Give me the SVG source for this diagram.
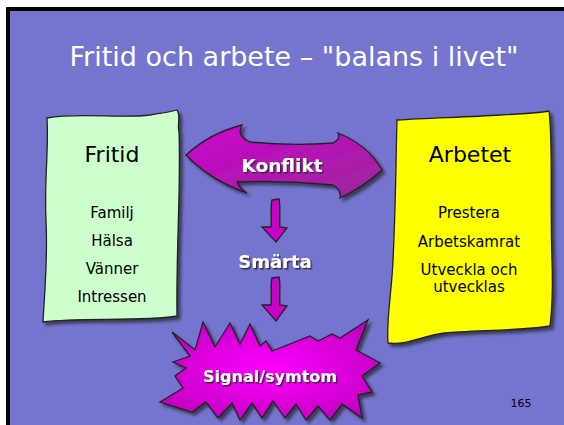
<svg xmlns="http://www.w3.org/2000/svg" width="564" height="425" viewBox="0 0 564 425">
<style>
.t{font-family:"DejaVu Sans","Liberation Sans",sans-serif;text-anchor:middle}
.title{fill:#fff;font-size:27px}
.head{fill:#000;font-size:22px}
.item{fill:#000;font-size:15px}
.wl{fill:#fff;font-weight:bold}
.outl{stroke:#222;stroke-width:1.3}
</style>
<defs>
<filter id="sh" x="-10%" y="-10%" width="130%" height="130%">
<feDropShadow dx="3" dy="3" stdDeviation="1.5" flood-color="#222" flood-opacity="0.7"/>
</filter>
<filter id="tsh" x="-10%" y="-20%" width="130%" height="150%">
<feDropShadow dx="1.5" dy="1.5" stdDeviation="0.6" flood-color="#222" flood-opacity="0.8"/>
</filter>
<linearGradient id="gK" x1="0" y1="0" x2="1" y2="1">
<stop offset="0" stop-color="#CC00CC"/>
<stop offset="1" stop-color="#9A2A9A"/>
</linearGradient>
<radialGradient id="gS" cx="0.5" cy="0.5" r="0.6">
<stop offset="0" stop-color="#FF00FF"/>
<stop offset="1" stop-color="#C000C0"/>
</radialGradient>
</defs>
<rect x="0" y="0" width="564" height="425" fill="#fff"/>
<rect x="6" y="7" width="558" height="418" fill="#000"/>
<rect x="10" y="11" width="554" height="414" fill="#7575CF"/>
<text class="t title" x="294" y="66">Fritid och arbete – "balans i livet"</text>

<g id="fritid">
<path class="outl" filter="url(#sh)" fill="#CCFFCC" d="M 47,118 C 80,112 120,119 150,115 C 162,113 170,112 177,110 C 181,116 177,124 179,132 C 181,190 176,250 177,316 C 140,322 80,317 43,322 C 44,300 48,260 46,220 C 44,180 49,150 47,118 Z"/>
<text class="t head" x="112" y="162">Fritid</text>
<text class="t item" x="112" y="218">Familj</text>
<text class="t item" x="112" y="246">Hälsa</text>
<text class="t item" x="112" y="274">Vänner</text>
<text class="t item" x="112" y="302">Intressen</text>
</g>

<g id="arbetet">
<path class="outl" filter="url(#sh)" fill="#FFFF00" d="M 397,120 C 430,118 470,117 500,115 C 520,114 540,113 549,111 C 553,140 550,200 552,260 C 553,290 552,310 550,326 C 520,331 470,330 445,333 C 420,336 410,345 388,343 C 386,320 392,290 393,260 C 396,200 396,150 397,120 Z"/>
<text class="t head" x="470" y="162">Arbetet</text>
<text class="t item" x="469" y="218">Prestera</text>
<text class="t item" x="469" y="247">Arbetskamrat</text>
<text class="t item" x="469" y="275">Utveckla och</text>
<text class="t item" x="469" y="292">utvecklas</text>
</g>

<g id="konflikt">
<path class="outl" filter="url(#sh)" fill="url(#gK)" d="M 186,155 Q 210,133 242,125 Q 236,136 250,142 Q 292,146 333,143 Q 341,139 338,133 Q 368,145 382,170 Q 365,186 340,198 Q 342,190 333,185 Q 285,180 237,182 Q 240,189 247,193 Q 210,180 186,155 Z"/>
<text class="t wl" filter="url(#tsh)" x="282" y="172" font-size="18.5">Konflikt</text>
</g>

<g id="smarta">
<text class="t wl" filter="url(#tsh)" x="275" y="268" font-size="18">Smärta</text>
</g>

<g id="signal">
<path class="outl" filter="url(#sh)" fill="url(#gS)" d="M 172,332 L 195,350 L 203,322 L 215,347 L 230,323 L 240,344 L 250,324 L 260,346 L 266,341 L 272,351 L 310,336 L 318,341 L 332,334 L 340,338 L 368,320 L 356,350 L 380,363 L 362,376 L 372,392 L 358,395 L 362,418 L 342,404 L 330,420 L 318,406 L 306,420 L 296,404 L 285,418 L 273,401 L 262,418 L 252,403 L 240,420 L 232,403 L 218,418 L 206,402 L 192,412 L 160,402 L 183,388 L 175,376 L 186,368 L 173,362 L 190,356 Z"/>
<text class="t wl" filter="url(#tsh)" x="270" y="382" font-size="16">Signal/symtom</text>
</g>

<g id="connectors">
<path class="outl" fill="#CC00CC" d="M 272,200 L 279,199 C 281,208 279,218 280,227 L 287,228 L 276,242 L 262,227 L 271,227 C 272,218 270,208 272,200 Z"/>
<path class="outl" fill="#CC00CC" d="M 272,278 L 279,277 C 281,286 279,296 280,305 L 287,306 L 276,321 L 262,305 L 271,305 C 272,296 270,286 272,278 Z"/>
</g>

<text class="t" x="521" y="407" font-size="11" fill="#000">165</text>
</svg>
